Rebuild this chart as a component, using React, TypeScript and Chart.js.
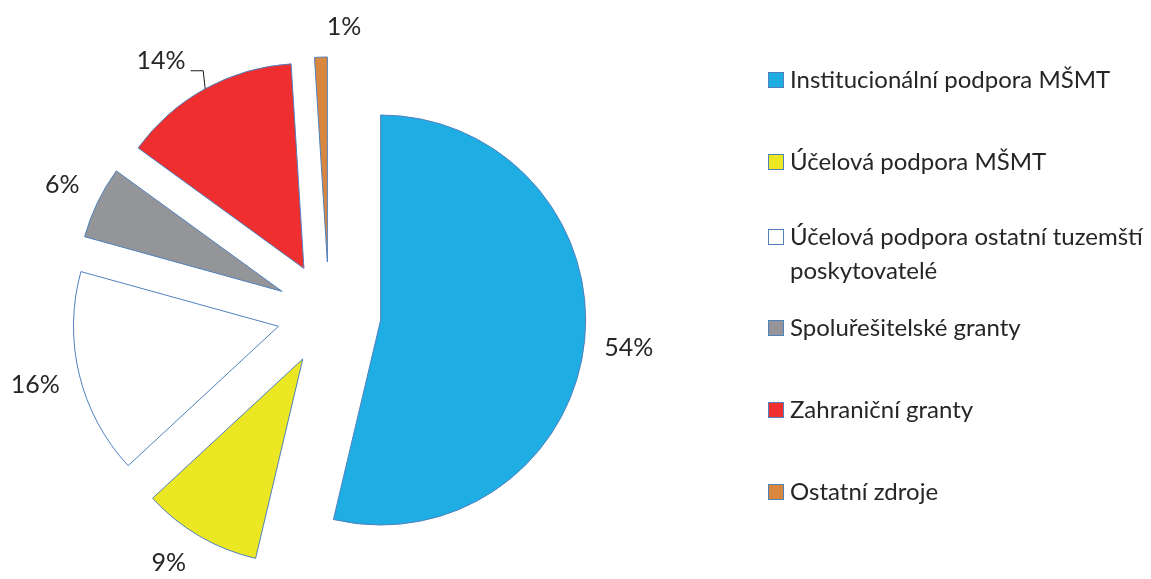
import React, { useEffect, useRef } from 'react';
import { Chart, registerables, ArcElement, PieController } from 'chart.js';

Chart.register(...registerables);

// ---------- data ----------
const categories = [
  'Institucionální podpora MŠMT',
  'Účelová podpora MŠMT',
  'Účelová podpora ostatní tuzemští poskytovatelé',
  'Spoluřešitelské granty',
  'Zahraniční granty',
  'Ostatní zdroje',
];
const shares = [53.7, 9.4, 16.2, 5.7, 14.0, 1.0];

// ---------- styles / layout ----------
const sliceColors = ['#1FAEE4', '#EBE823', '#FFFFFF', '#939598', '#EE2E2F', '#D9863F'];
const BORDER = '#4F81BD';
const TEXT = '#262626';
const FONT = 'Lato, "Open Sans", sans-serif';
const LABEL_SIZE = 25;
const LEGEND_SIZE = 24;
const RADIUS = 205;
const EXPLODE = 52;
const LABEL_GAP = 20;
const labelShift: [number, number][] = [[0, -1], [-15, 0], [0, -1], [0, 0], [-29, 0], [24, 0]];
const leaderFor = [false, false, false, false, true, false];
const legendRowY = [80, 162, 237, 328, 410, 492];
const LEGEND_X = 768;
const LEGEND_LINE = 34;
const LEGEND_MAXW = 370;

// Arc that is exploded by a plain translation along its bisector
class ExplodedArc extends ArcElement {
  static id = 'explodedArc';
  draw(ctx: CanvasRenderingContext2D) {
    const self: any = this;
    const { x, y, startAngle, endAngle, outerRadius } = self;
    const o = self.options;
    if (!(endAngle - startAngle)) return;
    const mid = (startAngle + endAngle) / 2;
    const t = o.offset || 0;
    const cx = x + Math.cos(mid) * t;
    const cy = y + Math.sin(mid) * t;
    ctx.save();
    ctx.beginPath();
    ctx.moveTo(cx, cy);
    ctx.arc(cx, cy, outerRadius, startAngle, endAngle);
    ctx.closePath();
    ctx.fillStyle = o.backgroundColor;
    ctx.fill();
    if (o.borderWidth) {
      ctx.lineWidth = o.borderWidth;
      ctx.strokeStyle = o.borderColor;
      ctx.lineJoin = 'miter';
      ctx.stroke();
    }
    ctx.restore();
  }
}

class ExplodedPieController extends PieController {
  static id = 'explodedPie';
  static defaults = { dataElementType: 'explodedArc' };
}

Chart.register(ExplodedArc as any, ExplodedPieController as any);

function wrapText(ctx: CanvasRenderingContext2D, text: string, maxW: number): string[] {
  const words = text.split(' ');
  const lines: string[] = [];
  let cur = '';
  for (const w of words) {
    const test = cur ? cur + ' ' + w : w;
    if (cur && ctx.measureText(test).width > maxW) {
      lines.push(cur);
      cur = w;
    } else cur = test;
  }
  if (cur) lines.push(cur);
  return lines;
}

const labelsPlugin = {
  id: 'pieLabels',
  afterDatasetsDraw(chart: any) {
    const ctx: CanvasRenderingContext2D = chart.ctx;
    const meta = chart.getDatasetMeta(0);
    const data: number[] = chart.data.datasets[0].data;
    const total = data.reduce((a, b) => a + b, 0);
    ctx.save();
    ctx.font = `${LABEL_SIZE}px ${FONT}`;
    ctx.fillStyle = TEXT;
    ctx.textAlign = 'center';
    ctx.textBaseline = 'middle';
    meta.data.forEach((arc: any, i: number) => {
      const mid = (arc.startAngle + arc.endAngle) / 2;
      const dx = Math.cos(mid);
      const dy = Math.sin(mid);
      const off = arc.options.offset || 0;
      const text = Math.round((data[i] / total) * 100) + '%';
      const w = ctx.measureText(text).width;
      const h = 20;
      const ext = Math.min(
        Math.abs(dx) > 1e-6 ? w / 2 / Math.abs(dx) : 1e9,
        Math.abs(dy) > 1e-6 ? h / 2 / Math.abs(dy) : 1e9
      );
      const edge = arc.outerRadius + off;
      const d = edge + LABEL_GAP + ext;
      const lx = arc.x + dx * d + labelShift[i][0];
      const ly = arc.y + dy * d + labelShift[i][1];
      ctx.fillText(text, lx, ly);
      if (leaderFor[i]) {
        const ax = arc.x + dx * edge;
        const ay = arc.y + dy * edge;
        ctx.save();
        ctx.strokeStyle = '#1a1a1a';
        ctx.lineWidth = 1;
        ctx.beginPath();
        ctx.moveTo(lx + w / 2 + 5, ly + 9.5);
        ctx.lineTo(ax - 2, ly + 9.5);
        ctx.lineTo(ax, ay);
        ctx.stroke();
        ctx.restore();
      }
    });
    ctx.restore();
  },
};

const legendPlugin = {
  id: 'sideLegend',
  afterDraw(chart: any) {
    const ctx: CanvasRenderingContext2D = chart.ctx;
    const ds = chart.data.datasets[0];
    ctx.save();
    ctx.font = `${LEGEND_SIZE}px ${FONT}`;
    ctx.textBaseline = 'middle';
    ctx.textAlign = 'left';
    chart.data.labels.forEach((label: string, i: number) => {
      const y = legendRowY[i];
      ctx.fillStyle = ds.backgroundColor[i];
      ctx.fillRect(LEGEND_X + 0.5, y - 7.5, 15, 15);
      ctx.strokeStyle = BORDER;
      ctx.lineWidth = 1;
      ctx.strokeRect(LEGEND_X + 0.5, y - 7.5, 15, 15);
      ctx.fillStyle = TEXT;
      const lines = wrapText(ctx, label, LEGEND_MAXW);
      lines.forEach((ln, k) => ctx.fillText(ln, LEGEND_X + 22, y + k * LEGEND_LINE));
    });
    ctx.restore();
  },
};

export default function App() {
  const ref = useRef<HTMLCanvasElement>(null);
  useEffect(() => {
    document.body.style.margin = '0';
    const chart = new Chart(ref.current as HTMLCanvasElement, {
      type: 'explodedPie' as any,
      data: {
        labels: categories,
        datasets: [
          {
            data: shares,
            backgroundColor: sliceColors,
            borderColor: BORDER,
            borderWidth: 1,
            offset: EXPLODE,
            radius: RADIUS,
            clip: false,
          } as any,
        ],
      },
      options: {
        animation: false,
        responsive: false,
        maintainAspectRatio: false,
        events: [],
        layout: { padding: { left: 0, right: 493, top: 49, bottom: 0 } },
        plugins: { legend: { display: false }, tooltip: { enabled: false } },
      } as any,
      plugins: [labelsPlugin, legendPlugin],
    });
    let alive = true;
    if ((document as any).fonts) {
      Promise.all([
        (document as any).fonts.load(`${LABEL_SIZE}px Lato`),
        (document as any).fonts.load(`${LEGEND_SIZE}px Lato`),
      ]).then(() => {
        if (alive) chart.update();
      });
    }
    return () => {
      alive = false;
      chart.destroy();
    };
  }, []);
  return (
    <div style={{ position: 'absolute', left: 0, top: 0, width: 1151, height: 579, background: '#fff' }}>
      <canvas ref={ref} width={1151} height={579} style={{ width: 1151, height: 579, display: 'block' }} />
    </div>
  );
}
